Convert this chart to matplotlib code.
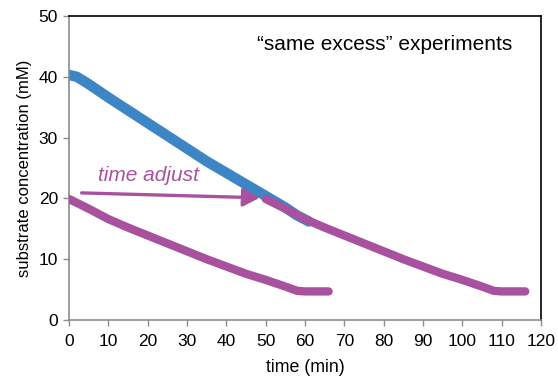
import matplotlib
matplotlib.use("Agg")
import matplotlib.pyplot as plt
import numpy as np

plt.rcParams['font.family'] = ['Liberation Sans', 'DejaVu Sans']

# data
blue_t = [0, 2, 5, 10, 15, 20, 25, 30, 35, 40, 45, 50, 55, 58, 61]
blue_c = [40.3, 40.0, 38.8, 36.6, 34.5, 32.4, 30.3, 28.2, 26.1, 24.2, 22.3, 20.4, 18.5, 17.2, 16.2]

purple_t = [0, 5, 10, 15, 20, 25, 30, 35, 40, 45, 50, 55, 58, 60, 63, 66]
purple_c = [19.9, 18.3, 16.6, 15.2, 13.9, 12.6, 11.3, 10.0, 8.8, 7.6, 6.6, 5.5, 4.8, 4.7, 4.7, 4.7]

time_shift = 50  # minutes

xticks = [0, 10, 20, 30, 40, 50, 60, 70, 80, 90, 100, 110, 120]
yticks = [0, 10, 20, 30, 40, 50]

BLUE = "#3d86c6"
PURPLE = "#a8529f"
GREY = "#8c8c8c"

fig = plt.figure(figsize=(5.58, 3.77), dpi=100)
ax = fig.add_axes([0.1237, 0.1512, 0.9695 - 0.1237, 0.9576 - 0.1512])

ax.plot(blue_t, blue_c, color=BLUE, lw=7.5, solid_capstyle='round', solid_joinstyle='round', zorder=2)
ax.plot(purple_t, purple_c, color=PURPLE, lw=6, solid_capstyle='round', solid_joinstyle='round', zorder=3)
ax.plot(np.array(purple_t) + time_shift, purple_c, color=PURPLE, lw=6,
        solid_capstyle='round', solid_joinstyle='round', zorder=3)

ax.annotate("", xy=(48.5, 20.1), xytext=(3.2, 20.9),
            arrowprops=dict(arrowstyle="-|>,head_length=1.0,head_width=0.55",
                            color=PURPLE, lw=2.4, shrinkA=0, shrinkB=0), zorder=4)
ax.text(20.2, 23.8, "time adjust", color=PURPLE, fontsize=15, style='italic',
        ha='center', va='center')
ax.text(0.669, 0.905, "\u201csame excess\u201d experiments", transform=ax.transAxes,
        fontsize=15, ha='center', va='center', color='black')

ax.set_xlim(0, 120)
ax.set_ylim(0, 50)
ax.set_xticks(xticks)
ax.set_yticks(yticks)
ax.tick_params(axis='both', labelsize=12.5, color=GREY, length=4, width=1, direction='out')
ax.tick_params(axis='x', pad=6)
ax.tick_params(axis='y', pad=4)

for s in ['left', 'bottom']:
    ax.spines[s].set_color(GREY)
    ax.spines[s].set_linewidth(1.2)
for s in ['top', 'right']:
    ax.spines[s].set_color('black')
    ax.spines[s].set_linewidth(1.2)

ax.set_xlabel("time (min)", fontsize=12.8, labelpad=7)
ax.set_ylabel("substrate concentration (mM)", fontsize=12, labelpad=5)

fig.savefig("out.png", dpi=100)
